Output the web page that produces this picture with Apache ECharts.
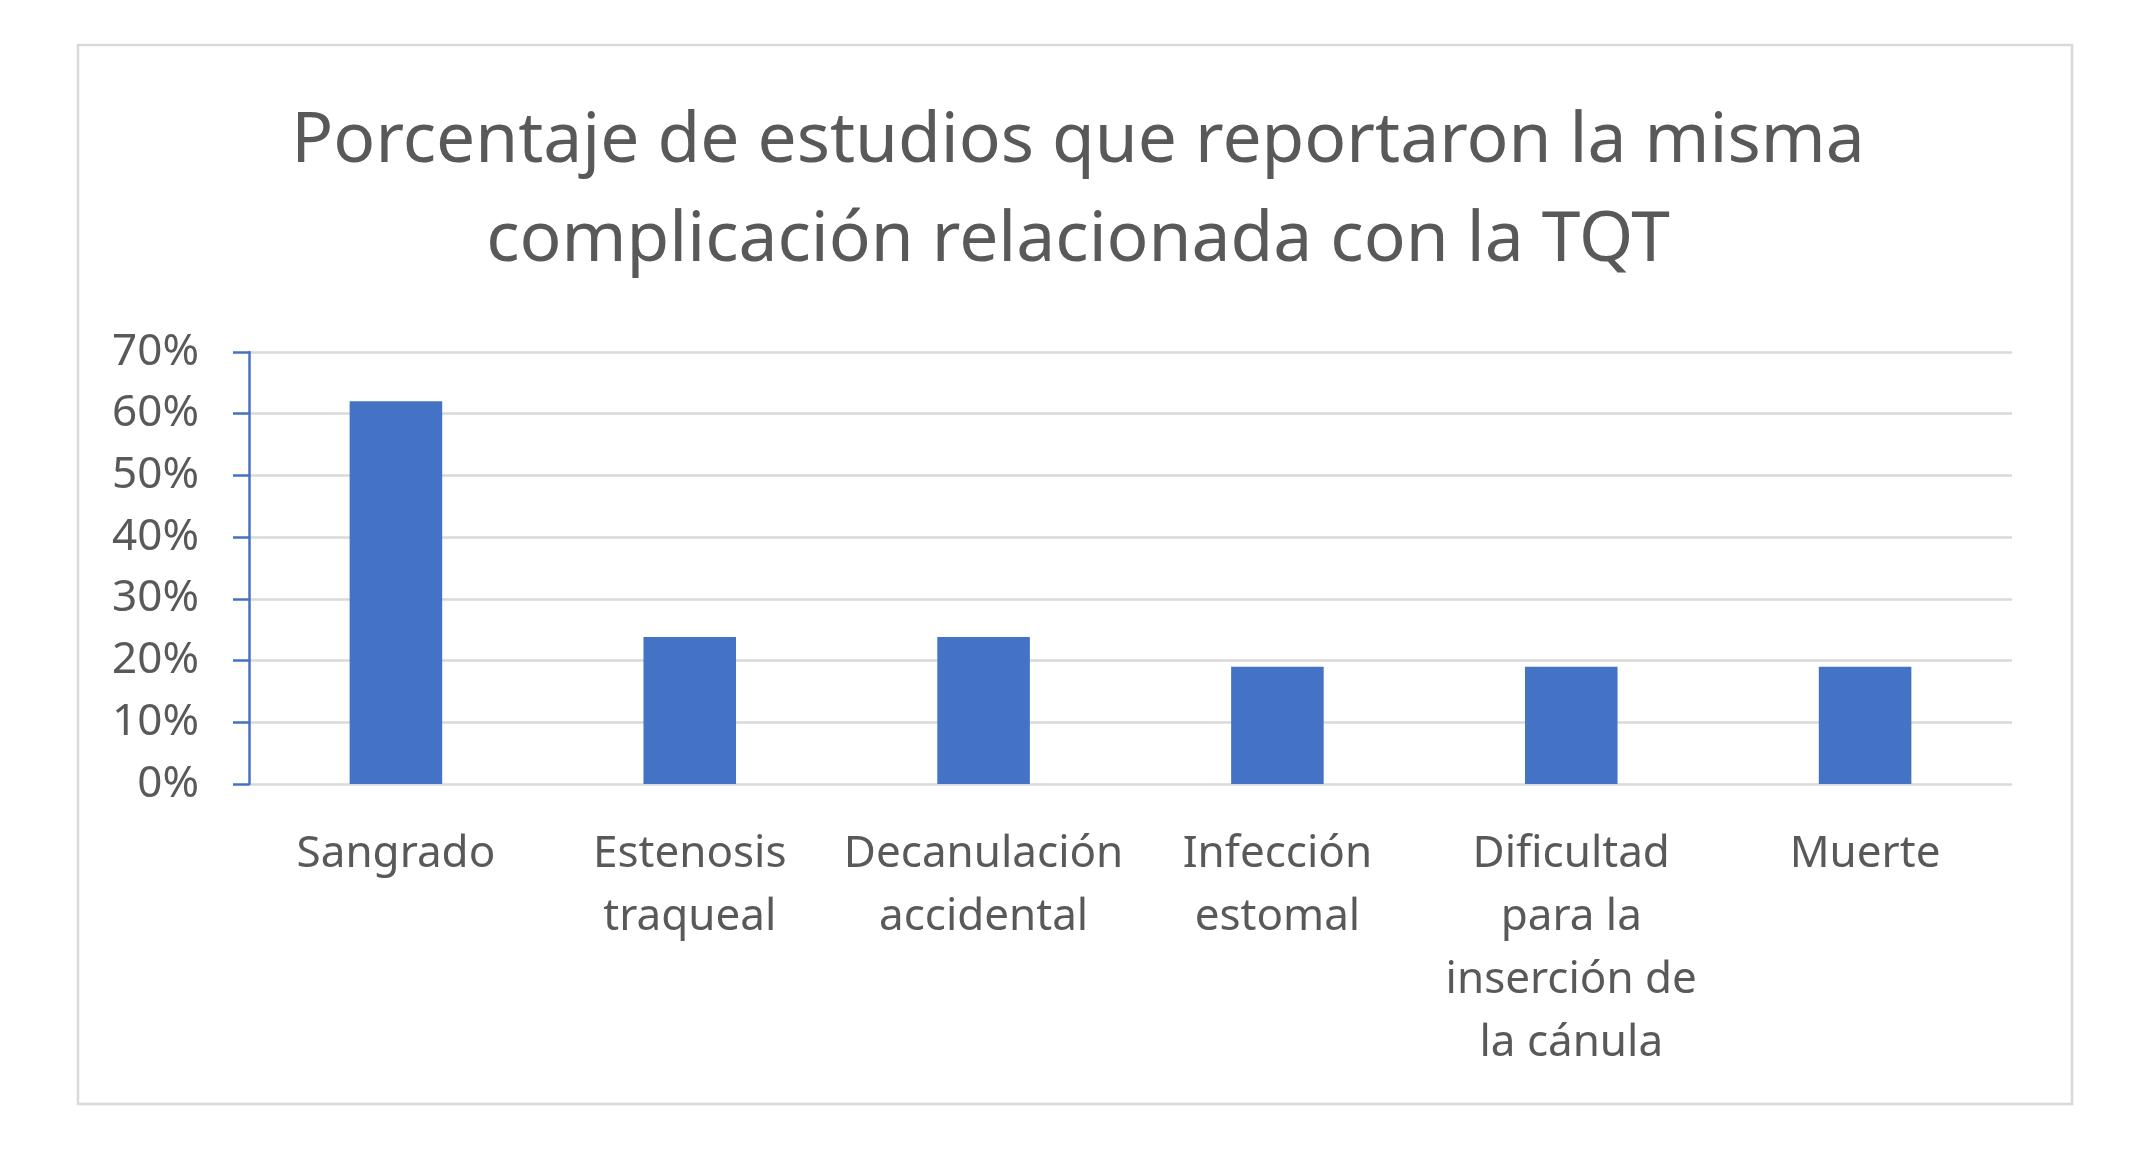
<!DOCTYPE html>
<html>
<head>
<meta charset="utf-8">
<script src="https://cdn.jsdelivr.net/npm/echarts@6/dist/echarts.min.js"></script>
<style>
html,body{margin:0;padding:0;background:#fff;}
#c{width:2147px;height:1172px;}
</style>
</head>
<body>
<div id="c"></div>
<script>
const titleText = 'Porcentaje de estudios que reportaron la misma\ncomplicación relacionada con la TQT';
const categories = ['Sangrado', 'Estenosis\ntraqueal', 'Decanulación\naccidental', 'Infección\nestomal', 'Dificultad\npara la\ninserción de\nla cánula', 'Muerte'];
const values = [62.0, 23.8, 23.8, 19.0, 19.0, 19.0];
const yTicks = { min: 0, max: 70, interval: 10 };

const chart = echarts.init(document.getElementById('c'));
chart.setOption({
  animation: false,
  backgroundColor: '#fff',
  title: {
    text: titleText,
    left: 1078,
    top: 93,
    textAlign: 'center',
    padding: 0,
    textStyle: {
      fontFamily: 'Noto Sans',
      fontSize: 69.5,
      fontWeight: 'normal',
      color: '#595959',
      lineHeight: 99
    }
  },
  graphic: [{
    type: 'rect',
    shape: { x: 78, y: 45, width: 1994, height: 1059 },
    style: { fill: 'none', stroke: '#d9d9d9', lineWidth: 2.5 },
    z: -1
  }],
  grid: { left: 249, right: 135, top: 352, bottom: 388 },
  xAxis: {
    type: 'category',
    data: categories,
    axisLine: { show: false },
    axisTick: { show: false },
    axisLabel: {
      interval: 0,
      margin: 39,
      fontFamily: 'Noto Sans',
      fontSize: 44,
      color: '#595959',
      lineHeight: 63,
      verticalAlign: 'top'
    }
  },
  yAxis: {
    type: 'value',
    min: yTicks.min,
    max: yTicks.max,
    interval: yTicks.interval,
    axisLine: { show: true, lineStyle: { color: '#4472C4', width: 2.5 } },
    axisTick: { show: true, length: 16, lineStyle: { color: '#4472C4', width: 2.5 } },
    splitLine: { show: true, lineStyle: { color: '#d9d9d9', width: 2.5 } },
    axisLabel: {
      margin: 50,
      fontFamily: 'Noto Sans',
      fontSize: 44,
      color: '#595959',
      formatter: v => v + '%'
    }
  },
  series: [{
    type: 'bar',
    data: values,
    barWidth: '31.5%',
    itemStyle: { color: '#4472C4' }
  }]
});
</script>
</body>
</html>
